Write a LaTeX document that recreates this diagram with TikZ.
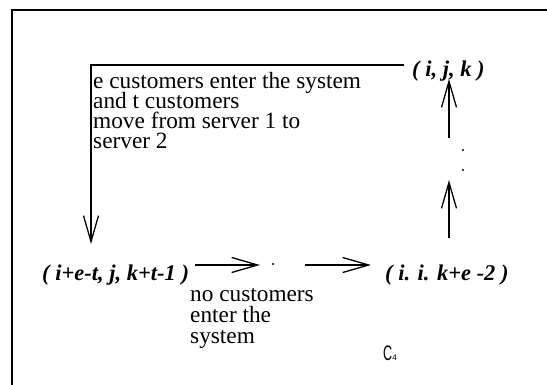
\documentclass[tikz,border=0pt]{standalone}
\usepackage{fontspec}
\usepackage{graphicx}
\setmainfont{Liberation Serif}
\setsansfont{Liberation Sans}
\usetikzlibrary{arrows.meta}
\newcommand\mytightlines{\lineskiplimit=-100pt\relax\lineskip=0pt\relax}
\begin{document}
\begin{tikzpicture}[x=1pt,y=-1pt,
  conn/.style={line width=1.3pt},
  arr/.style={conn,-{Straight Barb[length=26pt,width=15pt,line width=1.3pt]}},
  lbl/.style={inner sep=0pt,anchor=base west,font=\fontsize{22.5}{27}\selectfont\bfseries\itshape},
  txt/.style={inner sep=0pt,anchor=north west,align=left},
  dotnode/.style={circle,fill,inner sep=0pt,minimum size=2.4pt}]
\useasboundingbox (0,0) rectangle (547,385);
% outer frame
\draw[line width=2pt] (12,385) -- (12,10) -- (547,10);
% state labels
\node[lbl] (ijk) at (412,77) {( i, j, k )};
\node[lbl] (left) at (42,281) {( i+e-t, j, k+t-1 )};
\node[lbl] (right) at (385,281) {( i. i. k+e -2 )};
% big transition
\coordinate (tr) at (404,65);
\coordinate (tl) at (91,65);
\coordinate (dtip) at (91,244);
\draw[arr] (tr) -- (tl) -- (dtip);
\node[txt,font=\fontsize{23.3}{20}\selectfont\mytightlines] (t1) at (93,72)
  {e customers enter the system\\and t customers\\move from server 1 to\\server 2};
% horizontal chain
\coordinate (h1s) at (195,265);
\coordinate (h1e) at (260,265);
\node[dotnode] (hdot) at (273,264) {};
\coordinate (h2s) at (305,265);
\coordinate (h2e) at (371,265);
\draw[arr] (h1s) -- (h1e);
\draw[arr] (h2s) -- (h2e);
\node[txt,font=\fontsize{23.3}{21}\selectfont\mytightlines] (t2) at (190,288.5)
  {no customers\\enter the\\system};
% vertical chain
\coordinate (v2s) at (449,238);
\coordinate (v2e) at (449,180);
\node[dotnode] (vdot2) at (463,170) {};
\node[dotnode] (vdot1) at (463,150) {};
\coordinate (v1s) at (449,138);
\coordinate (v1e) at (449,79);
\draw[arr] (v2s) -- (v2e);
\draw[arr] (v1s) -- (v1e);
% C4
\node[inner sep=0pt,anchor=base west,font=\sffamily] (c4) at (383,360)
  {\scalebox{0.6}[1]{\fontsize{21}{21}\selectfont C}{\fontsize{8}{8}\selectfont 4}};
\end{tikzpicture}
\end{document}
